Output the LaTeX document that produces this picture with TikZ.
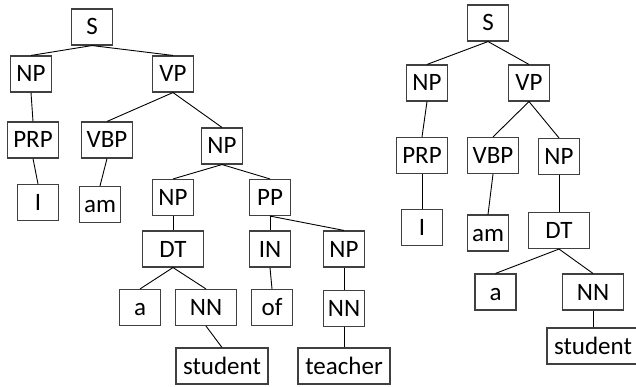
\documentclass[tikz,border=0pt]{standalone}
\usepackage{fontspec}
\setmainfont{Carlito}
\tikzset{
  tbox/.style={draw=black!75, line width=1.1pt, minimum height=36pt, inner sep=0pt,
    text height=16pt, text depth=0pt, font=\fontsize{25}{28}\selectfont, minimum width=41pt},
  wide/.style={minimum width=51pt},
  wider/.style={minimum width=61pt},
  widest/.style={minimum width=92pt},
  edge/.style={draw=black, line width=0.9pt}
}
\begin{document}
\begin{tikzpicture}[x=1pt,y=-1pt]
\useasboundingbox (0,0) rectangle (636,387);
% left tree
\node[tbox] (S1) at (92,27) {S};
\node[tbox] (NP1) at (31,74) {NP};
\node[tbox] (VP1) at (173,74) {VP};
\node[tbox,wide] (PRP1) at (33,140) {PRP};
\node[tbox,wide] (VBP1) at (107,140) {VBP};
\node[tbox] (NP2) at (222,146) {NP};
\node[tbox] (I1) at (38,202.5) {I};
\node[tbox] (am1) at (100,204.5) {am};
\node[tbox] (NP3) at (173,197.5) {NP};
\node[tbox] (PP) at (270,197.5) {PP};
\node[tbox,wider] (DT1) at (173,249) {DT};
\node[tbox] (IN) at (270,249) {IN};
\node[tbox] (NP4) at (344,249) {NP};
\node[tbox] (a1) at (140,307.5) {a};
\node[tbox,wider] (NN1) at (206,307.5) {NN};
\node[tbox] (of) at (272,307.5) {of};
\node[tbox] (NN2) at (344,308.5) {NN};
\node[tbox,widest] (student1) at (222,366) {student};
\node[tbox,widest] (teacher) at (344,366) {teacher};
% right tree
\node[tbox] (S2) at (488,23) {S};
\node[tbox] (NP5) at (427,83) {NP};
\node[tbox] (VP2) at (529,83) {VP};
\node[tbox,wide] (PRP2) at (422,155.5) {PRP};
\node[tbox,wide] (VBP2) at (493,155.5) {VBP};
\node[tbox] (NP6) at (559,156.5) {NP};
\node[tbox] (I2) at (422,227.5) {I};
\node[tbox] (am2) at (488,233) {am};
\node[tbox,wider] (DT2) at (559,230.5) {DT};
\node[tbox] (a2) at (495.5,292) {a};
\node[tbox,wider] (NN3) at (593,292) {NN};
\node[tbox,widest] (student2) at (593,346) {student};
% edges
\foreach \a/\b in {S1/NP1,S1/VP1,NP1/PRP1,PRP1/I1,VP1/VBP1,VP1/NP2,VBP1/am1,NP2/NP3,NP2/PP,NP3/DT1,DT1/a1,DT1/NN1,NN1/student1,PP/IN,PP/NP4,IN/of,NP4/NN2,NN2/teacher,
  S2/NP5,S2/VP2,NP5/PRP2,PRP2/I2,VP2/VBP2,VP2/NP6,VBP2/am2,NP6/DT2,DT2/a2,DT2/NN3,NN3/student2}
  \draw[edge] (\a.south) -- (\b.north);
\end{tikzpicture}
\end{document}
